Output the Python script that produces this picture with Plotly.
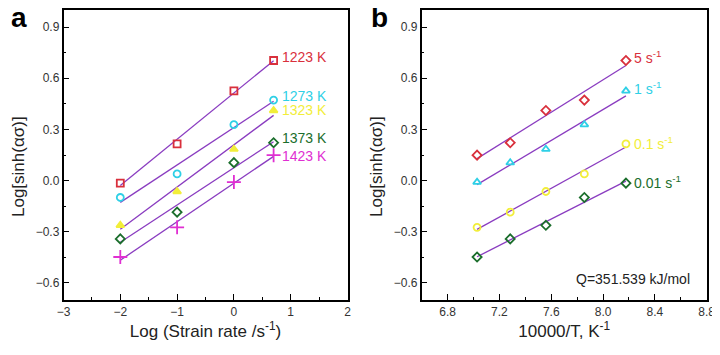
import numpy as np
import plotly.graph_objects as go

# ---- data ----
temps = [1223, 1273, 1323, 1373, 1423]
temp_labels = ["1223 K", "1273 K", "1323 K", "1373 K", "1423 K"]
log_rates = [-2.0, -1.0, 0.0, 0.699]
rate_labels = ["0.01 s<sup>-1</sup>", "0.1 s<sup>-1</sup>", "1 s<sup>-1</sup>", "5 s<sup>-1</sup>"]

v1223 = [-0.015, 0.215, 0.526, 0.704]
v1273 = [-0.099, 0.039, 0.328, 0.472]
v1323 = [-0.262, -0.064, 0.184, 0.411]
v1373 = [-0.342, -0.185, 0.105, 0.222]
v1423 = [-0.448, -0.274, -0.009, 0.149]
q_text = "Q=351.539 kJ/mol"

# ---- styles ----
RED = "#d9303c"
CYAN = "#2fd0e6"
YEL = "#f2ee3a"
GRN = "#1b6e2c"
MAG = "#e02fd2"
LINE = "#8a3cc0"
FAM = "Liberation Sans, Arial, sans-serif"

# page body has an 8px margin; size the figure so it fills the window
OX, OY = 8, 8
W, H = 720 - OX, 355 - OY

def px(x):
    return (x - OX) / W

def py(y):
    return 1 - (y - OY) / H

series_a = [v1223, v1273, v1323, v1373, v1423]
cols_a = [RED, CYAN, YEL, GRN, MAG]
syms_a = ["square-open", "circle-open", "triangle-up", "diamond-open", "cross-thin-open"]

inv_T = [10000.0 / t for t in temps]
mat = np.array(series_a)  # rows: temperature, cols: rate
series_b = [mat[:, 3], mat[:, 2], mat[:, 1], mat[:, 0]]
labels_b = [rate_labels[3], rate_labels[2], rate_labels[1], rate_labels[0]]
cols_b = [RED, CYAN, YEL, GRN]
syms_b = ["diamond-open", "triangle-up-open", "circle-open", "diamond-open"]

fig = go.Figure()

def add_fit(x, y, xa, ya):
    p = np.polyfit(x, y, 1)
    xs = np.array([min(x), max(x)])
    fig.add_trace(go.Scatter(x=xs, y=np.polyval(p, xs), mode="lines",
                             line=dict(color=LINE, width=1.3),
                             xaxis=xa, yaxis=ya, showlegend=False, hoverinfo="skip"))

# panel a
for vals, c, s, lab in zip(series_a, cols_a, syms_a, temp_labels):
    add_fit(log_rates, vals, "x", "y")
    fig.add_trace(go.Scatter(x=log_rates, y=vals, mode="markers",
                             marker=dict(symbol=s, size=7 if "cross" not in s else 10, color=c,
                                         line=dict(color=c, width=1.8)),
                             xaxis="x", yaxis="y", showlegend=False, name=lab))

# panel b
for vals, c, s, lab in zip(series_b, cols_b, syms_b, labels_b):
    add_fit(inv_T, list(vals), "x2", "y2")
    fig.add_trace(go.Scatter(x=inv_T, y=list(vals), mode="markers",
                             marker=dict(symbol=s, size=7, color=c, line=dict(color=c, width=1.8)),
                             xaxis="x2", yaxis="y2", showlegend=False, name=lab))

font_lab = dict(family=FAM, size=14)

ann = []
lab_y_a = [0.722, 0.497, 0.411, 0.251, 0.144]
for lab, c, yv in zip(temp_labels, cols_a, lab_y_a):
    ann.append(dict(x=0.82, y=yv, xref="x", yref="y", text=lab, showarrow=False,
                    xanchor="left", yanchor="middle", font=dict(font_lab, color=c)))
lab_y_b = [0.722, 0.54, 0.218, -0.006]
for lab, c, yv in zip(labels_b, cols_b, lab_y_b):
    ann.append(dict(x=8.22, y=yv, xref="x2", yref="y2", text=lab, showarrow=False,
                    xanchor="left", yanchor="middle", font=dict(font_lab, color=c)))
ann.append(dict(x=8.69, y=-0.577, xref="x2", yref="y2", text=q_text, showarrow=False,
                xanchor="right", yanchor="middle", font=dict(family=FAM, size=14, color="#222")))
ann.append(dict(x=px(9), y=py(17), xref="paper", yref="paper", text="<b>a</b>",
                showarrow=False, xanchor="left", yanchor="middle",
                font=dict(family=FAM, size=28, color="black")))
ann.append(dict(x=px(369), y=py(17), xref="paper", yref="paper", text="<b>b</b>",
                showarrow=False, xanchor="left", yanchor="middle",
                font=dict(family=FAM, size=28, color="black")))
# y axis titles
ytitle = "Log[sinh(ασ)]"
for xp in (18, 376):
    ann.append(dict(x=px(xp), y=py(167), xref="paper", yref="paper", text=ytitle,
                    textangle=-90, showarrow=False, xanchor="center", yanchor="middle",
                    font=dict(family=FAM, size=17, color="#222")))

tickfont = dict(family=FAM, size=12, color="#333")
titlefont = dict(family=FAM, size=17, color="#222")

def axis_common(**kw):
    d = dict(showline=True, linecolor="black", linewidth=1.5, mirror=True,
             ticks="inside", ticklen=6, tickwidth=1.2, tickcolor="black",
             showgrid=False, zeroline=False, tickfont=tickfont, automargin=False,
             minor=dict(ticks="inside", ticklen=3, tickwidth=1, tickcolor="black"))
    d.update(kw)
    return d

ydom = [py(300), py(10)]
fig.update_layout(
    width=W, height=H, margin=dict(l=0, r=0, t=0, b=0),
    plot_bgcolor="white", paper_bgcolor="white",
    xaxis=axis_common(domain=[px(63.5), px(347.5)], range=[-3, 2], dtick=1,
                      tick0=0, minor_dtick=0.5,
                      title=dict(text="Log (Strain rate /s<sup>-1</sup>)", font=titlefont, standoff=6)),
    yaxis=axis_common(domain=ydom, range=[-0.7, 1.0], dtick=0.3, tick0=0,
                      tickformat=".1f", minor_dtick=0.15, anchor="x"),
    xaxis2=axis_common(domain=[px(421.7), px(706.7)], range=[6.6, 8.8], dtick=0.4,
                       tick0=6.8, tickformat=".1f", minor_dtick=0.2, anchor="y2",
                       title=dict(text="10000/T, K<sup>-1</sup>", font=titlefont, standoff=6)),
    yaxis2=axis_common(domain=ydom, range=[-0.7, 1.0], dtick=0.3, tick0=0,
                       tickformat=".1f", minor_dtick=0.15, anchor="x2"),
    annotations=ann,
)

fig.write_html("out.html")
